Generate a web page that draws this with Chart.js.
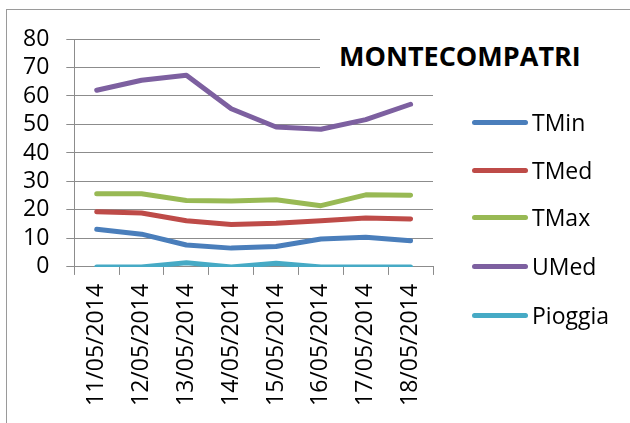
<!DOCTYPE html>
<html>
<head>
<meta charset="utf-8">
<script src="https://cdn.jsdelivr.net/npm/chart.js@4"></script>
<style>
    body { margin: 0; background: #fff; font-family: "Open Sans", sans-serif; }
    #wrap { position: relative; width: 630px; height: 423px; overflow: hidden; }
    #frame { position: absolute; left: 6px; top: 9px; width: 700px; height: 500px;
             border-left: 1px solid #9a9a9a; border-top: 1px solid #9a9a9a; }
    #title { position: absolute; left: 320px; top: 30px; width: 280px; height: 52px;
             background: #fff; font-weight: bold; font-size: 27px; line-height: 52px;
             padding-left: 19px; box-sizing: border-box; color: #000; }
    #legend { position: absolute; left: 472px; top: 0; }
    .item { position: absolute; left: 0; white-space: nowrap; font-size: 23px; color: #000; }
    .item .ln { position: absolute; left: 0; width: 56px; height: 5px; border-radius: 3px; }
    .item .tx { position: absolute; left: 60px; }
</style>
</head>
<body>
<div id="wrap">
    <div id="frame"></div>
    <canvas id="myChart" width="630" height="423"></canvas>
    <div id="title">MONTECOMPATRI</div>
    <div id="legend"></div>
</div>
<script>

const days = ['11/05/2014', '12/05/2014', '13/05/2014', '14/05/2014',
              '15/05/2014', '16/05/2014', '17/05/2014', '18/05/2014']

const tMin = [13.2, 11.5, 7.7, 6.6, 7.2, 9.8, 10.4, 9.2]
const tMed = [19.4, 18.9, 16.2, 14.9, 15.3, 16.2, 17.2, 16.8]
const tMax = [25.7, 25.7, 23.3, 23.1, 23.6, 21.5, 25.3, 25.2]
const uMed = [62, 65.5, 67.3, 55.5, 49.1, 48.3, 51.7, 57.1]
const pioggia = [0, 0, 1.5, 0, 1.3, 0, 0, 0]

const seriesNames = ['TMin', 'TMed', 'TMax', 'UMed', 'Pioggia']
const seriesColors = ['#4a7ebb', '#be4b48', '#98b954', '#7d60a0', '#46aac5']
const seriesData = [tMin, tMed, tMax, uMed, pioggia]

const gridColor = '#8c8c8c'
const font = { family: '"Open Sans", sans-serif', size: 23, lineHeight: 1 }

const datasets = seriesNames.map((name, i) => ({
    label: name,
    data: seriesData[i],
    borderColor: seriesColors[i],
    backgroundColor: seriesColors[i],
    borderWidth: 5,
    pointRadius: 0,
    borderCapStyle: 'round',
    borderJoinStyle: 'round',
    fill: false,
    tension: 0
}))

const ctx = document.getElementById('myChart')
const chart = new Chart(ctx, {
    type: 'line',
    data: { labels: days, datasets: datasets },
    options: {
        responsive: false,
        animation: false,
        layout: { padding: { left: 6, top: 39, right: 197, bottom: 8 } },
        plugins: {
            legend: { display: false },
            title: { display: false },
            tooltip: { enabled: false }
        },
        scales: {
            x: {
                offset: true,
                grid: { offset: true, drawOnChartArea: false, drawTicks: true, tickLength: 8, color: gridColor },
                border: { color: gridColor, width: 1 },
                ticks: { color: '#000', font: font, minRotation: 90, maxRotation: 90, padding: 9, autoSkip: false }
            },
            y: {
                min: 0,
                max: 80,
                grid: { color: gridColor, tickLength: 8 },
                border: { color: gridColor, width: 1 },
                ticks: { stepSize: 10, color: '#000', font: font, padding: 17, autoSkip: false }
            }
        }
    }
})

// legend as html, built from the datasets
const rowTops = [122, 170, 217, 266, 315]
const legend = document.getElementById('legend')
chart.data.datasets.forEach((ds, i) => {
    const item = document.createElement('div')
    item.className = 'item'
    item.style.top = (rowTops[i] - 16) + 'px'
    item.innerHTML = '<span class="ln" style="top:14px;background:' + ds.borderColor + '"></span>' +
                     '<span class="tx">' + ds.label + '</span>'
    legend.appendChild(item)
})

console.log(chart.chartArea)
</script>
</body>
</html>
